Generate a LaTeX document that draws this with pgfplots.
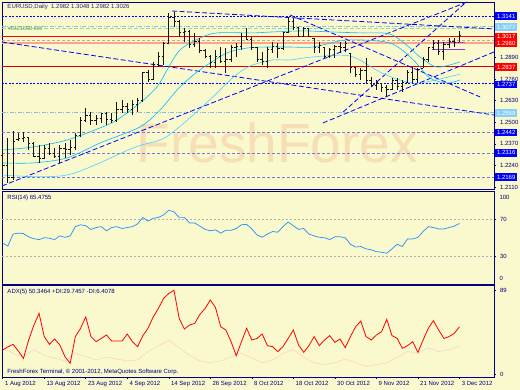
\documentclass[border=0pt]{standalone}
\usepackage{fontspec}
\setmainfont{Liberation Sans}
\usepackage{pgfplots}
\usepackage{pgfplotstable}
\pgfplotsset{compat=1.18}
\definecolor{bg}{RGB}{250,248,205}
\definecolor{frame}{RGB}{0,0,128}
\definecolor{lblue}{RGB}{135,206,250}
\definecolor{slate}{RGB}{120,120,220}
\definecolor{salmon}{RGB}{250,165,145}
\definecolor{tan}{RGB}{200,170,130}
\definecolor{lgreen}{RGB}{160,215,150}
\definecolor{cyanl}{RGB}{0,191,255}
\definecolor{wm}{RGB}{246,222,182}
\definecolor{rsi}{RGB}{30,144,255}
\definecolor{pdi}{RGB}{250,212,200}
\definecolor{magl}{RGB}{200,60,200}
\definecolor{purl}{RGB}{140,60,200}
\definecolor{bar}{RGB}{20,20,20}
\pgfdeclareplotmark{otick}{\pgfpathmoveto{\pgfqpoint{-\pgfplotmarksize}{0pt}}\pgfpathlineto{\pgfqpoint{0pt}{0pt}}\pgfusepathqstroke}
\pgfdeclareplotmark{ctick}{\pgfpathmoveto{\pgfqpoint{0pt}{0pt}}\pgfpathlineto{\pgfqpoint{\pgfplotmarksize}{0pt}}\pgfusepathqstroke}
\newcommand{\sm}{\fontsize{6}{7}\selectfont}

\pgfplotstableread{
i o h l c
0 1.2300 1.2345 1.2225 1.2240
1 1.2240 1.2405 1.2134 1.2165
2 1.2165 1.2448 1.2152 1.2385
3 1.2395 1.2436 1.2390 1.2400
4 1.2400 1.2442 1.2381 1.2410
5 1.2410 1.2411 1.2333 1.2370
6 1.2370 1.2381 1.2291 1.2295
7 1.2295 1.2363 1.2255 1.2285
8 1.2285 1.2363 1.2280 1.2340
9 1.2340 1.2375 1.2303 1.2310
10 1.2310 1.2345 1.2285 1.2295
11 1.2295 1.2363 1.2255 1.2345
12 1.2345 1.2375 1.2285 1.2335
13 1.2335 1.2393 1.2303 1.2350
14 1.2350 1.2436 1.2333 1.2420
15 1.2420 1.2532 1.2411 1.2510
16 1.2510 1.2586 1.2502 1.2540
17 1.2540 1.2562 1.2484 1.2510
18 1.2510 1.2544 1.2484 1.2525
19 1.2525 1.2556 1.2496 1.2555
20 1.2555 1.2562 1.2484 1.2515
21 1.2515 1.2556 1.2496 1.2510
22 1.2510 1.2622 1.2502 1.2575
23 1.2575 1.2634 1.2556 1.2595
24 1.2595 1.2616 1.2556 1.2575
25 1.2575 1.2634 1.2544 1.2610
26 1.2610 1.2647 1.2562 1.2630
27 1.2630 1.2803 1.2625 1.2800
28 1.2800 1.2815 1.2743 1.2760
29 1.2760 1.2864 1.2755 1.2850
30 1.2850 1.2924 1.2833 1.2900
31 1.2900 1.2984 1.2846 1.2975
32 1.2975 1.3159 1.2970 1.3130
33 1.3130 1.3165 1.3075 1.3110
34 1.3110 1.3117 1.3014 1.3040
35 1.3040 1.3069 1.2984 1.3050
36 1.3050 1.3055 1.2948 1.2970
37 1.2970 1.3039 1.2954 1.2985
38 1.2985 1.3008 1.2918 1.2935
39 1.2935 1.2940 1.2888 1.2895
40 1.2895 1.2906 1.2827 1.2860
41 1.2860 1.2936 1.2827 1.2900
42 1.2900 1.2954 1.2858 1.2870
43 1.2870 1.2948 1.2797 1.2880
44 1.2880 1.2966 1.2864 1.2950
45 1.2950 1.2978 1.2894 1.2960
46 1.2960 1.3039 1.2936 1.3020
47 1.3020 1.3069 1.2996 1.3000
48 1.3000 1.3014 1.2936 1.2950
49 1.2950 1.2955 1.2864 1.2880
50 1.2880 1.2924 1.2846 1.2870
51 1.2870 1.2954 1.2827 1.2940
52 1.2940 1.2984 1.2918 1.2960
53 1.2960 1.2978 1.2888 1.2945
54 1.2945 1.3045 1.2936 1.3040
55 1.3040 1.3135 1.3039 1.3110
56 1.3110 1.3129 1.3057 1.3070
57 1.3070 1.3075 1.3014 1.3020
58 1.3020 1.3075 1.3014 1.3065
59 1.3065 1.3069 1.3014 1.3020
60 1.3005 1.3008 1.2918 1.2950
61 1.2950 1.2984 1.2918 1.2965
62 1.2954 1.2954 1.2888 1.2900
63 1.2900 1.2948 1.2888 1.2940
64 1.2940 1.2966 1.2888 1.2960
65 1.2960 1.2984 1.2918 1.2950
66 1.2950 1.2990 1.2924 1.2975
67 1.2915 1.2920 1.2800 1.2830
68 1.2830 1.2833 1.2773 1.2790
69 1.2790 1.2827 1.2755 1.2810
70 1.2810 1.2890 1.2737 1.2750
71 1.2750 1.2773 1.2713 1.2720
72 1.2720 1.2755 1.2695 1.2740
73 1.2737 1.2737 1.2683 1.2710
74 1.2710 1.2725 1.2653 1.2700
75 1.2700 1.2767 1.2695 1.2750
76 1.2750 1.2767 1.2695 1.2715
77 1.2715 1.2755 1.2683 1.2740
78 1.2740 1.2815 1.2737 1.2800
79 1.2800 1.2833 1.2737 1.2760
80 1.2760 1.2827 1.2737 1.2820
81 1.2827 1.2894 1.2827 1.2880
82 1.2880 1.2954 1.2864 1.2950
83 1.2950 1.2996 1.2936 1.2975
84 1.2975 1.2996 1.2906 1.2930
85 1.2930 1.2984 1.2876 1.2970
86 1.2970 1.3008 1.2948 1.2990
87 1.2990 1.3008 1.2954 1.2982
88 1.2982 1.3048 1.2982 1.3026
}\ohlc

\pgfplotstableread{
i p
0 1.2333
5.84 1.2351
12.39 1.2393
18.75 1.2466
22.02 1.2514
26.45 1.2616
29.73 1.2713
31.66 1.2815
34.16 1.2936
38.0 1.3008
41.3 1.3039
48.2 1.3039
52.1 1.3045
58.1 1.3051
63.1 1.3045
68.8 1.3039
74.6 1.3032
78.5 1.2948
80.4 1.2894
83.7 1.2833
88.1 1.2864
}\maA

\pgfplotstableread{
i p
0 1.2255
5.84 1.2255
12.39 1.2285
18.75 1.2375
26.45 1.2472
30.3 1.2574
33.6 1.2695
36.7 1.2785
39.4 1.2846
43.2 1.2918
47.1 1.2948
50.9 1.2954
55.4 1.2954
59.8 1.2954
66.3 1.2996
74.6 1.2978
79.1 1.2876
82.3 1.2767
85.6 1.2737
88.1 1.2755
}\maB

\pgfplotstableread{
i p
0 1.2182
12.39 1.2182
25.1 1.2345
30.3 1.2393
32.8 1.2441
36.7 1.2544
40.5 1.2653
43.2 1.2737
45.7 1.2803
48.2 1.2846
52.1 1.2876
55.4 1.2876
59.8 1.2894
66.9 1.2900
72.7 1.2803
76.5 1.2755
80.4 1.2737
88.1 1.2790
}\maC

\pgfplotstableread{
i v
0 44
1 41
2 54
3 55
4 54.5
5 51
6 49
7 48
8 50
9 49.5
10 48
11 52
12 50.5
13 52
14 62
15 64
16 63
17 59
18 61
19 62
20 57.5
21 61
22 62
23 60
24 61
25 62
26 65
27 72
28 68
29 71
30 72
31 74.7
32 79.7
33 78
34 72
35 72
36 66
37 66
38 62.5
39 59
40 57.5
41 58.5
42 55
43 58
44 58
45 60
46 64
47 64.5
48 59.5
49 53
50 50.5
51 54
52 56.7
53 56
54 62
55 67
56 63
57 59
58 60
59 54
60 52
61 50.5
62 50
63 48
64 51
65 51
66 50
67 43
68 40
69 40.5
70 38
71 37
72 35
73 34.3
74 33.2
75 38
76 43
77 40.5
78 48.7
79 48.7
80 50.5
81 56.7
82 62
83 61
84 59.5
85 59.5
86 61
87 62.5
88 65.5
}\rsitab

\pgfplotstableread{
i v
0 25.6
1 29
2 31.7
3 24.6
4 16.7
5 36.3
6 52
7 64.8
8 40
9 31.7
10 37.4
11 31
12 18.5
13 11.4
14 40
15 48.8
16 61
17 40
18 34.5
19 38
20 41.7
21 35.2
22 35.2
23 35.2
24 42.7
25 34.5
26 29.2
27 41
28 48.8
29 61
30 70
31 80.8
32 86
33 89.5
34 59.5
35 48
36 52.3
37 54
38 63.7
39 70
40 79
41 71
42 50.5
43 47
44 34.5
45 19.6
46 34.5
47 48.8
48 36.3
49 38
50 42.7
51 30.3
52 29.2
53 23.9
54 29.2
55 38
56 47
57 31
58 23.1
59 30.3
60 40
61 30.3
62 36.3
63 41
64 33.8
65 37.4
66 28.1
67 40
68 50.5
69 56.6
70 40
71 36.3
72 41.7
73 45.2
74 58.4
75 41
76 38
77 27.4
78 30.3
79 34.5
80 23.1
81 36.3
82 48.8
83 57
84 47
85 38
86 40
87 43.4
88 50.3
}\adxtab

\pgfplotstableread{
i v
0 28
2 22
4 18
6 26
8 20
10 17
12 14
14 22
16 19
18 15
20 18
22 16
24 14
26 15
28 24
30 30
32 36
34 28
36 20
38 14
40 12
42 14
44 18
46 22
48 17
50 12
52 15
54 22
56 26
58 18
60 12
62 10
64 12
66 16
68 12
70 8
72 10
74 12
76 18
78 24
80 22
82 28
84 24
86 26
88 29.7
}\pditab

\pgfplotsset{
  mt/.style={scale only axis, width=492pt, xmin=-0.135, xmax=94.66,
    axis background/.style={fill=bg},
    axis line style={draw=frame, line width=0.7pt},
    clip mode=individual, yticklabel pos=right, ytick pos=right,
    tick align=outside, major tick length=2pt,
    tick style={draw=frame, line width=0.5pt},
    yticklabel style={font=\sm, text=frame, xshift=0.5pt},
    xticklabel style={font=\sm, text=frame},
    /pgf/number format/assume math mode=true,
    xtick=\empty},
  hl/.style={forget plot, line width=#1},
}
\tikzset{pl/.style={anchor=west, font=\sm, text=white, fill=#1, inner sep=0.6pt, minimum width=22pt, minimum height=7.6pt}}

\begin{document}
\begin{tikzpicture}[x=1pt,y=1pt]
\fill[bg] (0pt,0pt) rectangle (520pt,390pt);

% ---------------- main price panel
\begin{axis}[mt, at={(2pt,200.5pt)}, anchor=south west, height=187.5pt,
  ymin=1.20948, ymax=1.32254,
  ytick={1.2110,1.2240,1.2370,1.2500,1.2630,1.2760,1.2890},
  /pgf/number format/fixed, /pgf/number format/fixed zerofill, /pgf/number format/precision=4]
\node[font=\fontsize{55}{55}\selectfont, text=wm, anchor=base] at (axis cs:52.9,1.2255) {FreshForex};
% horizontal levels
\addplot[hl=0.8pt, blue, dash pattern=on 2pt off 1.5pt] coordinates {(-0.135,1.3141) (94.66,1.3141)};
\addplot[hl=0.7pt, lblue!80!gray, dash pattern=on 4pt off 1.5pt on 1pt off 1.5pt] coordinates {(-0.135,1.3077) (94.66,1.3077)};
\addplot[hl=1.0pt, lgreen, dash pattern=on 4pt off 2pt] coordinates {(-0.135,1.3063) (94.66,1.3063)};
\addplot[hl=0.9pt, red] coordinates {(-0.135,1.3017) (94.66,1.3017)};
\addplot[hl=0.6pt, tan, dash pattern=on 3pt off 2pt] coordinates {(-0.135,1.2996) (94.66,1.2996)};
\addplot[hl=1.6pt, salmon] coordinates {(-0.135,1.2979) (94.66,1.2979)};
\addplot[hl=1.0pt, red!85!black] coordinates {(-0.135,1.2837) (94.66,1.2837)};
\addplot[hl=0.8pt, blue, dash pattern=on 2pt off 1.5pt] coordinates {(-0.135,1.2737) (94.66,1.2737)};
\addplot[hl=0.7pt, lblue!80!gray, dash pattern=on 4pt off 1.5pt on 1pt off 1.5pt] coordinates {(-0.135,1.2560) (94.66,1.2560)};
\addplot[hl=0.6pt, slate, dash pattern=on 3pt off 2pt] coordinates {(-0.135,1.2442) (94.66,1.2442)};
\addplot[hl=0.6pt, slate, dash pattern=on 3pt off 2pt] coordinates {(-0.135,1.2316) (94.66,1.2316)};
\addplot[hl=0.6pt, slate, dash pattern=on 3pt off 2pt] coordinates {(-0.135,1.2169) (94.66,1.2169)};
% trend lines
\addplot[hl=0.8pt, blue, dash pattern=on 5pt off 2.5pt] coordinates {(-0.13,1.2984) (94.66,1.2544)};
\addplot[hl=0.8pt, blue, dash pattern=on 5pt off 2.5pt] coordinates {(32.65,1.3171) (94.66,1.3063)};
\addplot[hl=0.8pt, blue, dash pattern=on 5pt off 2.5pt] coordinates {(-0.13,1.2116) (89.46,1.3225)};
\addplot[hl=0.8pt, blue, dash pattern=on 5pt off 2.5pt] coordinates {(61.7,1.2496) (94.66,1.2924)};
\addplot[hl=0.8pt, blue, dash pattern=on 5pt off 2.5pt] coordinates {(55.36,1.3147) (91.97,1.2653)};
\addplot[hl=0.8pt, blue, dash pattern=on 5pt off 2.5pt] coordinates {(65.6,1.2562) (89.1,1.3219)};
% moving averages
\addplot[hl=0.6pt, cyanl, smooth] table[x=i, y=p] {\maA};
\addplot[hl=0.6pt, cyanl, smooth] table[x=i, y=p] {\maB};
\addplot[hl=0.6pt, cyanl!70!white, smooth] table[x=i, y=p] {\maC};
% short order lines
\addplot[hl=1.3pt, magl] coordinates {(83,1.2981) (89,1.2981)};
\addplot[hl=0.9pt, purl] coordinates {(82.8,1.2942) (89,1.2942)};
% OHLC bars
\addplot[forget plot, draw=none, mark=none, error bars/.cd, y dir=plus, y explicit, error mark=none,
  error bar style={draw=bar, line width=0.9pt}]
  table[x=i, y=l, y error expr=\thisrow{h}-\thisrow{l}] {\ohlc};
\addplot[forget plot, only marks, mark=otick, mark size=1.8pt, mark options={draw=bar, line width=0.8pt}] table[x=i, y=o] {\ohlc};
\addplot[forget plot, only marks, mark=ctick, mark size=1.8pt, mark options={draw=bar, line width=0.8pt}] table[x=i, y=c] {\ohlc};
% texts
\node[font=\sm, text=frame!70!gray, anchor=west] at (rel axis cs:0.004,0.976) {EURUSD,Daily\ \ 1.2982 1.3048 1.2982 1.3026};
\node[font=\fontsize{5.5}{6}\selectfont, text=green!30!gray, anchor=west] at (axis cs:0.3,1.3067) {\#6421658 sell};
% right labels
\node[pl=blue] at ([xshift=1pt]axis cs:94.66,1.3141) {1.3141};
\node[pl=lblue] at ([xshift=1pt]axis cs:94.66,1.3075) {1.3077};
\node[pl=red] at ([xshift=1pt]axis cs:94.66,1.3017) {1.3017};
\node[pl=red] at ([xshift=1pt]axis cs:94.66,1.2977) {1.2980};
\node[pl=red] at ([xshift=1pt]axis cs:94.66,1.2833) {1.2837};
\node[pl=blue] at ([xshift=1pt]axis cs:94.66,1.2728) {1.2737};
\node[pl=lblue] at ([xshift=1pt]axis cs:94.66,1.2556) {1.2569};
\node[pl=blue] at ([xshift=1pt]axis cs:94.66,1.2438) {1.2442};
\node[pl=blue] at ([xshift=1pt]axis cs:94.66,1.2316) {1.2316};
\node[pl=blue] at ([xshift=1pt]axis cs:94.66,1.2169) {1.2169};
\end{axis}

% ---------------- RSI panel
\begin{axis}[mt, at={(2pt,106pt)}, anchor=south west, height=92.5pt,
  ymin=0, ymax=100, ytick={30,70}]
\addplot[hl=0.5pt, gray!60, dash pattern=on 2pt off 2pt] coordinates {(-0.135,70) (94.66,70)};
\addplot[hl=0.5pt, gray!60, dash pattern=on 2pt off 2pt] coordinates {(-0.135,30) (94.66,30)};
\addplot[hl=0.7pt, rsi] table[x=i, y=v] {\rsitab};
\node[font=\sm, text=frame, anchor=west] at (rel axis cs:0.004,0.925) {RSI(14) 65.4755};
\node[font=\sm, text=frame, anchor=north west] at ([xshift=2pt]rel axis cs:1,1) {100};
\node[font=\sm, text=frame, anchor=south west] at ([xshift=2pt]rel axis cs:1,0) {0};
\end{axis}

% ---------------- ADX panel
\begin{axis}[mt, at={(2pt,13pt)}, anchor=south west, height=91.5pt,
  ymin=-3.2, ymax=94.55, ytick={0,89},
  xtick={0,8,16,24,32,40,48,56,64,72,80,88},
  xticklabels={1 Aug 2012,13 Aug 2012,23 Aug 2012,4 Sep 2012,14 Sep 2012,26 Sep 2012,8 Oct 2012,18 Oct 2012,30 Oct 2012,9 Nov 2012,21 Nov 2012,3 Dec 2012},
  xtick pos=bottom, xticklabel style={anchor=north west, xshift=-1.2pt, yshift=1pt}]
\addplot[hl=0.6pt, pdi] table[x=i, y=v] {\pditab};
\addplot[hl=0.8pt, red] table[x=i, y=v] {\adxtab};
\node[font=\sm, text=frame, anchor=west] at (rel axis cs:0.004,0.925) {ADX(5) 50.3464 +DI:29.7457 -DI:6.4078};
\node[font=\sm, text=frame, anchor=west] at (rel axis cs:0.004,0.06) {FreshForex Terminal, \textcopyright\ 2001-2012, MetaQuotes Software Corp.};
\end{axis}
\pgfresetboundingbox
\useasboundingbox (0pt,0pt) rectangle (520pt,390pt);
\end{tikzpicture}
\end{document}
